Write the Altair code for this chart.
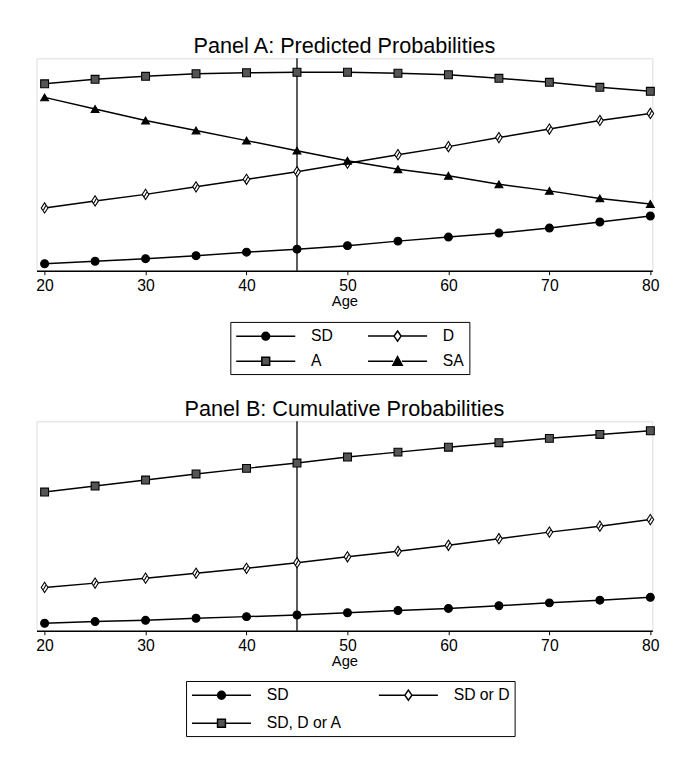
import altair as alt
import pandas as pd

# ---------------- data ----------------
ages = [20, 25, 30, 35, 40, 45, 50, 55, 60, 65, 70, 75, 80]
ref_age = [45]

# Panel A: predicted probabilities
a_sd = [0.014, 0.019, 0.024, 0.030, 0.037, 0.043, 0.050, 0.059, 0.067, 0.075, 0.085, 0.097, 0.109]
a_d = [0.125, 0.139, 0.152, 0.167, 0.182, 0.197, 0.214, 0.231, 0.247, 0.265, 0.282, 0.299, 0.313]
a_a = [0.372, 0.381, 0.387, 0.392, 0.394, 0.395, 0.395, 0.393, 0.390, 0.383, 0.375, 0.365, 0.357]
a_sa = [0.345, 0.322, 0.299, 0.279, 0.259, 0.239, 0.219, 0.202, 0.189, 0.172, 0.159, 0.144, 0.133]
a_series = ["SD", "D", "A", "SA"]

# Panel B: cumulative probabilities
b_sd = [0.037, 0.045, 0.051, 0.061, 0.069, 0.077, 0.088, 0.099, 0.109, 0.122, 0.136, 0.149, 0.163]
b_sd_d = [0.211, 0.232, 0.256, 0.280, 0.304, 0.331, 0.360, 0.387, 0.416, 0.448, 0.480, 0.509, 0.541]
b_sd_d_a = [0.675, 0.704, 0.733, 0.763, 0.790, 0.816, 0.845, 0.869, 0.893, 0.915, 0.936, 0.955, 0.973]
b_series = ["SD", "SD or D", "SD, D or A"]


def long(series_names, columns):
    rows = []
    for name, vals in zip(series_names, columns):
        for age, v in zip(ages, vals):
            rows.append({"age": age, "prob": v, "series": name})
    return pd.DataFrame(rows)


dfA = long(a_series, [a_sd, a_d, a_a, a_sa])
dfB = long(b_series, [b_sd, b_sd_d, b_sd_d_a])
dfRef = pd.DataFrame({"age": ref_age})

# ---------------- marker shapes ----------------
DIAMOND = "M0,-1.3L0.85,0L0,1.3L-0.85,0Z M0.3,-0.55L-0.3,0.55"
SQUARE = "M-1,-1L1,-1L1,1L-1,1Z"
CIRCLE = "circle"
TRIANGLE = "triangle-up"

# legend symbols: line segment with marker (units of 8px)
L0, L1, M = -1.0, 6.5, 2.75


def seg(r):
    return f"M{L0},0L{M - r},0M{M + r},0L{L1},0 "


LEG_CIRCLE = seg(0.5) + f"M{M - 0.5},0A0.5,0.5 0 1,0 {M + 0.5},0A0.5,0.5 0 1,0 {M - 0.5},0Z"
LEG_DIAMOND = seg(0.45) + f"M{M},-0.65L{M + 0.45},0L{M},0.65L{M - 0.45},0Z"
LEG_SQUARE = seg(0.5) + f"M{M - 0.5},-0.5L{M + 0.5},-0.5L{M + 0.5},0.5L{M - 0.5},0.5Z"
LEG_TRI = seg(0.55) + f"M{M},-0.6L{M + 0.6},0.5L{M - 0.6},0.5Z"

FONT = "Liberation Sans"
X_DOMAIN = [19.2, 80.2]
PW = 626


def panel(df, names, shapes, leg_shapes, fills, title, ydom, ph, legx, legy, colpad,
          rowpad, toff):
    x = alt.X("age:Q", scale=alt.Scale(domain=X_DOMAIN, nice=False, zero=False),
              axis=alt.Axis(values=[20, 30, 40, 50, 60, 70, 80], title="Age", grid=False,
                            domainColor="black", domainWidth=1.6, tickColor="black",
                            tickSize=4, tickWidth=1, labelFont=FONT, labelFontSize=16,
                            labelColor="black", labelPadding=3, titleFont=FONT,
                            titleFontSize=15, titleFontWeight="normal", titleColor="black",
                            titlePadding=0))
    y = alt.Y("prob:Q", scale=alt.Scale(domain=ydom, nice=False, zero=False), axis=None)

    rule = alt.Chart(dfRef).mark_rule(color="black", strokeWidth=1.3).encode(
        x=alt.X("age:Q", scale=alt.Scale(domain=X_DOMAIN, nice=False, zero=False)))
    line = alt.Chart(df).mark_line(color="black", strokeWidth=1.5).encode(
        x=x, y=y, detail="series:N")
    pts = alt.Chart(df).mark_point(filled=True, stroke="black", strokeWidth=1.1, opacity=1,
                                   size=64).encode(
        x=x, y=y,
        shape=alt.Shape("series:N", scale=alt.Scale(domain=names, range=shapes), legend=None),
        fill=alt.Fill("series:N", scale=alt.Scale(domain=names, range=fills), legend=None))
    leg = alt.Legend(title=None, orient="none", legendX=legx, legendY=legy, columns=2,
                     direction="horizontal",
                     symbolSize=256, symbolStrokeWidth=1.5, symbolOpacity=1,
                     labelFont=FONT, labelFontSize=16, labelColor="black", labelOffset=59,
                     columnPadding=colpad, rowPadding=rowpad, padding=5, strokeColor="black",
                     fillColor="white", symbolStrokeColor="black")
    legl = alt.Chart(df).mark_point(filled=True, opacity=0).encode(
        x=x, y=y,
        shape=alt.Shape("series:N", scale=alt.Scale(domain=names, range=leg_shapes), legend=leg),
        fill=alt.Fill("series:N", scale=alt.Scale(domain=names, range=fills), legend=leg),
        stroke=alt.Stroke("series:N", scale=alt.Scale(domain=names, range=["black"] * len(names)),
                          legend=leg))
    return alt.layer(rule, line, pts, legl).resolve_scale(
        shape="independent", fill="independent", stroke="independent").properties(
        width=PW, height=ph,
        title=alt.Title(title, font=FONT, fontSize=22, fontWeight="normal", color="black",
                        anchor="middle", offset=toff))


chartA = panel(dfA, a_series, [CIRCLE, DIAMOND, SQUARE, TRIANGLE],
               [LEG_CIRCLE, LEG_DIAMOND, LEG_SQUARE, LEG_TRI],
               ["black", "white", "#555555", "black"],
               "Panel A: Predicted Probabilities", [0, 0.4228], 216, 197, 268, 32, 8, 0)
chartB = panel(dfB, b_series, [CIRCLE, DIAMOND, SQUARE],
               [LEG_CIRCLE, LEG_DIAMOND, LEG_SQUARE],
               ["black", "white", "#555555"],
               "Panel B: Cumulative Probabilities", [0, 1.019], 213, 152, 264, 34, 11, 0)

chart = alt.vconcat(chartA, chartB, spacing=22).properties(
    padding={"left": 27, "top": 20, "right": 5, "bottom": 5}
).configure_view(strokeWidth=0).configure(background="white")

chart.save("out.html", embed_options={"renderer": "svg", "actions": False})
